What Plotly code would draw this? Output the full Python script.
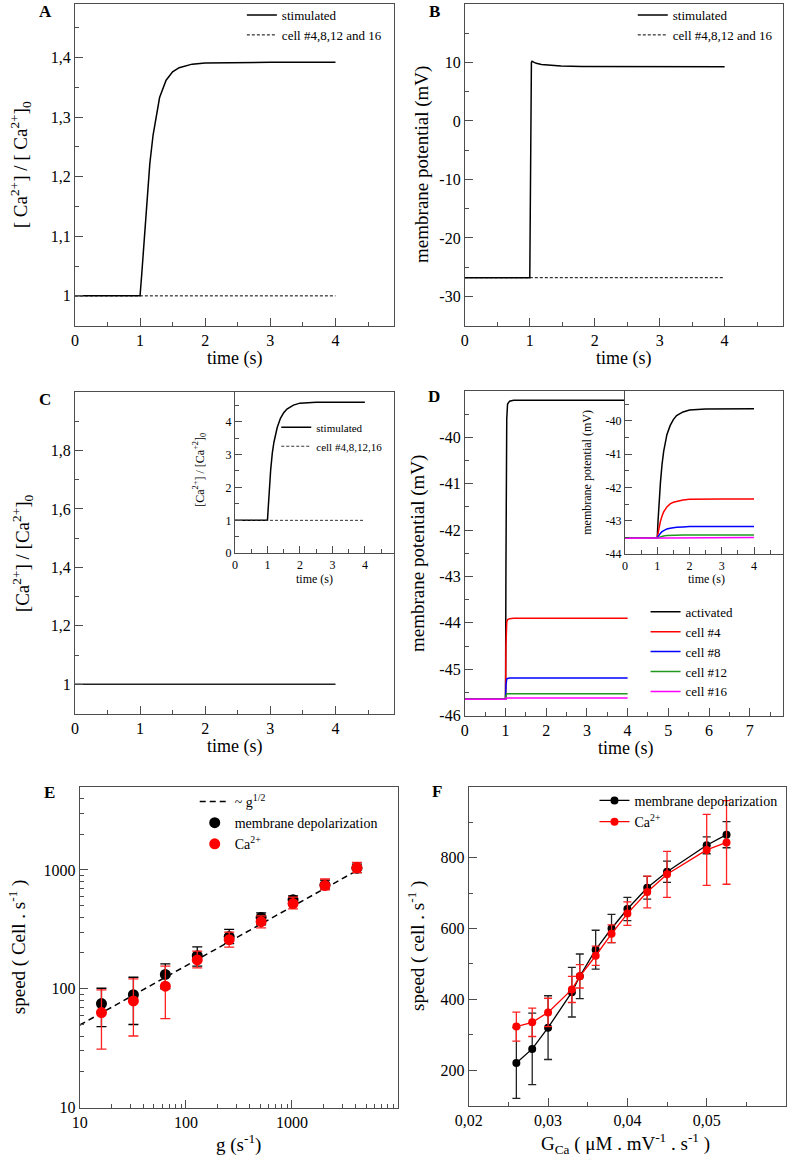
import plotly.graph_objects as go

W, H = 787, 1166
FONT = "Liberation Serif, Times New Roman, DejaVu Serif, serif"
AX = "#4d4d4d"

# ---------------- data ----------------
# Panel A
t_A = [0, 1, 1.025, 1.05, 1.075, 1.1, 1.15, 1.2, 1.3, 1.4, 1.5, 1.6, 1.8, 2.0, 2.5, 3, 4]
ca_A_stim = [1.0, 1.0, 1.035, 1.072, 1.11, 1.15, 1.222, 1.27, 1.333, 1.362, 1.376, 1.383, 1.389, 1.391, 1.392, 1.392, 1.392]
t_cells = [0, 4]
ca_A_cells = [1.0, 1.0]

# Panel B
t_B = [0, 1, 1.025, 1.035, 1.06, 1.1, 1.18, 1.3, 1.48, 1.8, 4]
v_B_stim = [-26.8, -26.8, 10.0, 10.2, 10.05, 9.85, 9.66, 9.5, 9.38, 9.3, 9.27]
v_B_cells = [-26.8, -26.8]

# Panel C (main and inset)
ca_C_main = [1.0, 1.0]
ca_C_stim = [1.0, 1.0, 1.4, 1.85, 2.25, 2.55, 3.05, 3.38, 3.82, 4.1, 4.27, 4.38, 4.50, 4.56, 4.585, 4.59, 4.59]
ca_C_cells = [1.0, 1.0]

# Panel D main
t_D = [0, 1, 1.01, 1.02, 1.03, 1.05, 1.1, 1.2, 4]
d_names = ["activated", "cell #4", "cell #8", "cell #12", "cell #16"]
d_colors = ["#000000", "#ff0000", "#0000ff", "#1f9a1f", "#ff00ff"]
vD_act = [-45.65, -45.65, -42.8, -40.6, -39.6, -39.28, -39.22, -39.2, -39.2]
vD_c4 = [-45.65, -45.65, -44.5, -44.1, -43.98, -43.93, -43.91, -43.9, -43.9]
vD_c8 = [-45.65, -45.65, -45.35, -45.25, -45.21, -45.2, -45.19, -45.19, -45.19]
vD_c12 = [-45.65, -45.65, -45.57, -45.545, -45.535, -45.53, -45.53, -45.53, -45.53]
vD_c16 = [-45.65, -45.65, -45.63, -45.625, -45.62, -45.62, -45.62, -45.62, -45.62]

# Panel D inset
t_Di = [0, 1, 1.025, 1.05, 1.075, 1.1, 1.15, 1.2, 1.3, 1.4, 1.5, 1.6, 1.8, 2.0, 2.5, 3, 4]
vDi_act = [-43.52, -43.52, -43.01, -42.55, -42.16, -41.85, -41.30, -40.91, -40.41, -40.14, -39.96, -39.84, -39.73, -39.67, -39.64, -39.63, -39.63]
vDi_c4 = [-43.52, -43.52, -43.37, -43.23, -43.11, -43.01, -42.85, -42.73, -42.58, -42.49, -42.44, -42.41, -42.37, -42.35, -42.34, -42.34, -42.34]
vDi_c8 = [-43.52, -43.52, -43.47, -43.43, -43.40, -43.37, -43.32, -43.29, -43.24, -43.22, -43.20, -43.19, -43.18, -43.17, -43.17, -43.17, -43.17]
vDi_c12 = [-43.52, -43.52, -43.51, -43.495, -43.485, -43.477, -43.463, -43.453, -43.44, -43.433, -43.43, -43.425, -43.422, -43.421, -43.42, -43.42, -43.42]
vDi_c16 = [-43.52, -43.52, -43.517, -43.515, -43.513, -43.511, -43.509, -43.507, -43.504, -43.503, -43.502, -43.501, -43.5, -43.5, -43.5, -43.5, -43.5]

# Panel E
g_vals = [16, 32, 64, 128, 256, 512, 1024, 2048, 4096]
E_dep = [75, 89, 132, 190, 275, 398, 562, 750, 1035]
E_dep_hi = [101, 125, 162, 225, 316, 436, 605, 820, 1120]
E_dep_lo = [48, 50, 100, 155, 240, 345, 520, 690, 950]
E_ca = [63, 79, 105, 175, 259, 367, 521, 741, 1047]
E_ca_hi = [98, 121, 155, 207, 300, 410, 590, 840, 1160]
E_ca_lo = [31, 40, 56, 150, 224, 325, 470, 680, 950]
g_fit = [10, 4096]
speed_fit = [49.5, 990]

# Panel F
G_ca = [0.026, 0.028, 0.030, 0.033, 0.034, 0.036, 0.038, 0.040, 0.0425, 0.045, 0.050, 0.0525]
F_dep = [220, 260, 320, 420, 465, 540, 600, 655, 715, 760, 835, 865]
F_dep_err = [100, 101, 90, 70, 63, 55, 40, 33, 32, 30, 24, 37]
F_ca = [323, 335, 363, 428, 465, 523, 585, 642, 703, 753, 822, 843]
F_ca_err = [41, 40, 40, 37, 33, 27, 25, 33, 45, 65, 100, 118]

# tick labels
t_ticks = [0, 1, 2, 3, 4]
t_minor = [0.5, 1.5, 2.5, 3.5, 4.5]
A_yticks = [1.0, 1.1, 1.2, 1.3, 1.4]
A_ylabels = ["1", "1,1", "1,2", "1,3", "1,4"]
A_yminor = [0.95, 1.05, 1.15, 1.25, 1.35, 1.45]
B_yticks = [-30, -20, -10, 0, 10]
B_yminor = [-35, -25, -15, -5, 5, 15]
C_yticks = [1.0, 1.2, 1.4, 1.6, 1.8]
C_ylabels = ["1", "1,2", "1,4", "1,6", "1,8"]
C_yminor = [0.9, 1.1, 1.3, 1.5, 1.7, 1.9]
Ci_yticks = [0, 1, 2, 3, 4]
Ci_yminor = [0.5, 1.5, 2.5, 3.5, 4.5]
D_xticks = [0, 1, 2, 3, 4, 5, 6, 7]
D_xminor = [0.5, 1.5, 2.5, 3.5, 4.5, 5.5, 6.5, 7.5]
D_yticks = [-46, -45, -44, -43, -42, -41, -40]
D_yminor = [-45.5, -44.5, -43.5, -42.5, -41.5, -40.5, -39.5]
Di_yticks = [-44, -43, -42, -41, -40]
Di_yminor = [-43.5, -42.5, -41.5, -40.5, -39.5]
E_ticks = [10, 100, 1000]
E_minor = [20, 30, 40, 50, 60, 70, 80, 90, 200, 300, 400, 500, 600, 700, 800, 900,
           2000, 3000, 4000, 5000, 6000, 7000, 8000, 9000]
F_xticks = [0.02, 0.03, 0.04, 0.05]
F_xlabels = ["0,02", "0,03", "0,04", "0,05"]
F_xminor = [0.025, 0.035, 0.045, 0.055]
F_yticks = [200, 400, 600, 800]
F_yminor = [100, 300, 500, 700, 900]


# ---------------- helpers ----------------
def dx(a, b):
    return [a / W, b / W]


def dy(top, bottom):
    return [1 - bottom / H, 1 - top / H]


def px(x):
    return x / W


def py(y):
    return 1 - y / H


def axis(domain, rng, tickvals, ticktext, minor_vals, anchor, size=16, typ="linear", ticklen=8, minorlen=4):
    return dict(
        domain=domain, range=rng, type=typ, anchor=anchor,
        tickmode="array", tickvals=tickvals, ticktext=ticktext,
        showline=True, linecolor=AX, linewidth=1, mirror=True,
        ticks="inside", ticklen=ticklen, tickwidth=1, tickcolor=AX,
        showgrid=False, zeroline=False, fixedrange=True,
        tickfont=dict(family=FONT, size=size, color="black"),
        minor=dict(tickmode="array", tickvals=minor_vals, ticks="inside",
                   ticklen=minorlen, tickwidth=1, tickcolor=AX, showgrid=False),
    )


fig = go.Figure()

DASH = "3px,2px"

# A
fig.add_trace(go.Scatter(x=t_A, y=ca_A_stim, mode="lines", name="stimulated",
                         line=dict(color="black", width=1.5), xaxis="x", yaxis="y", legend="legend"))
fig.add_trace(go.Scatter(x=t_cells, y=ca_A_cells, mode="lines", name="cell #4,8,12 and 16",
                         line=dict(color="black", width=1, dash=DASH), xaxis="x", yaxis="y", legend="legend"))
# B
fig.add_trace(go.Scatter(x=t_B, y=v_B_stim, mode="lines", name="stimulated",
                         line=dict(color="black", width=1.5), xaxis="x2", yaxis="y2", legend="legend2"))
fig.add_trace(go.Scatter(x=t_cells, y=v_B_cells, mode="lines", name="cell #4,8,12 and 16",
                         line=dict(color="black", width=1, dash=DASH), xaxis="x2", yaxis="y2", legend="legend2"))
# C main
fig.add_trace(go.Scatter(x=t_cells, y=ca_C_main, mode="lines", showlegend=False,
                         line=dict(color="#222222", width=1.5), xaxis="x3", yaxis="y3"))
# C inset
fig.add_trace(go.Scatter(x=t_A, y=ca_C_stim, mode="lines", name="stimulated",
                         line=dict(color="black", width=1.5), xaxis="x4", yaxis="y4", legend="legend3"))
fig.add_trace(go.Scatter(x=t_cells, y=ca_C_cells, mode="lines", name="cell #4,8,12,16",
                         line=dict(color="#333333", width=1, dash=DASH), xaxis="x4", yaxis="y4", legend="legend3"))
# D main
for name, col, vals in zip(d_names, d_colors, [vD_act, vD_c4, vD_c8, vD_c12, vD_c16]):
    fig.add_trace(go.Scatter(x=t_D, y=vals, mode="lines", name=name,
                             line=dict(color=col, width=1.5), xaxis="x5", yaxis="y5", legend="legend4"))
# D inset
for name, col, vals in zip(d_names, d_colors, [vDi_act, vDi_c4, vDi_c8, vDi_c12, vDi_c16]):
    fig.add_trace(go.Scatter(x=t_Di, y=vals, mode="lines", name=name, showlegend=False,
                             line=dict(color=col, width=1.5), xaxis="x6", yaxis="y6"))
# E
fig.add_trace(go.Scatter(x=g_fit, y=speed_fit, mode="lines", name="~ g<sup>1/2</sup>",
                         line=dict(color="black", width=1.5, dash="6px,4px"),
                         xaxis="x7", yaxis="y7", legend="legend5"))
fig.add_trace(go.Scatter(
    x=g_vals, y=E_dep, mode="markers", name="membrane depolarization",
    marker=dict(color="black", size=11),
    error_y=dict(type="data", symmetric=False,
                 array=[h - v for h, v in zip(E_dep_hi, E_dep)],
                 arrayminus=[v - l for v, l in zip(E_dep, E_dep_lo)],
                 color="black", thickness=1.3, width=5),
    xaxis="x7", yaxis="y7", legend="legend5"))
fig.add_trace(go.Scatter(
    x=g_vals, y=E_ca, mode="markers", name="Ca<sup>2+</sup>",
    marker=dict(color="#ff0000", size=11),
    error_y=dict(type="data", symmetric=False,
                 array=[h - v for h, v in zip(E_ca_hi, E_ca)],
                 arrayminus=[v - l for v, l in zip(E_ca, E_ca_lo)],
                 color="#ff2020", thickness=1.3, width=5),
    xaxis="x7", yaxis="y7", legend="legend5"))
# F
fig.add_trace(go.Scatter(
    x=G_ca, y=F_dep, mode="lines+markers", name="membrane depolarization",
    line=dict(color="black", width=1.3), marker=dict(color="black", size=8),
    error_y=dict(type="data", array=F_dep_err, color="#222222", thickness=1.3, width=4),
    xaxis="x8", yaxis="y8", legend="legend6"))
fig.add_trace(go.Scatter(
    x=G_ca, y=F_ca, mode="lines+markers", name="Ca<sup>2+</sup>",
    line=dict(color="#ff0000", width=1.3), marker=dict(color="#ff0000", size=8),
    error_y=dict(type="data", array=F_ca_err, color="#ff2020", thickness=1.3, width=4),
    xaxis="x8", yaxis="y8", legend="legend6"))

# ---------------- axes ----------------
XR = [0, 4.9]
layout_axes = dict(
    xaxis=axis(dx(62, 387), XR, t_ticks, [str(v) for v in t_ticks], t_minor, "y"),
    yaxis=axis(dy(1, 326), [0.95, 1.49], A_yticks, A_ylabels, A_yminor, "x"),
    xaxis2=axis(dx(459, 783), XR, t_ticks, [str(v) for v in t_ticks], t_minor, "y2"),
    yaxis2=axis(dy(1, 326), [-35, 20], B_yticks, [str(v) for v in B_yticks], B_yminor, "x2"),
    xaxis3=axis(dx(62, 387), XR, t_ticks, [str(v) for v in t_ticks], t_minor, "y3"),
    yaxis3=axis(dy(393, 718), [0.9, 2.0], C_yticks, C_ylabels, C_yminor, "x3"),
    xaxis4=axis(dx(225, 387), XR, t_ticks, [str(v) for v in t_ticks], t_minor, "y4", size=12, ticklen=7, minorlen=4),
    yaxis4=axis(dy(393, 556), [0, 4.9], Ci_yticks, [str(v) for v in Ci_yticks], Ci_yminor, "x4", size=12, ticklen=7, minorlen=4),
    xaxis5=axis(dx(459, 783), [0, 7.82], D_xticks, [str(v) for v in D_xticks], D_xminor, "y5"),
    yaxis5=axis(dy(392, 720), [-46, -39], D_yticks, [str(v) for v in D_yticks], D_yminor, "x5"),
    xaxis6=axis(dx(622, 783), XR, t_ticks, [str(v) for v in t_ticks], t_minor, "y6", size=12, ticklen=7, minorlen=4),
    yaxis6=axis(dy(392, 557), [-44, -39.1], Di_yticks, [str(v) for v in Di_yticks], Di_yminor, "x6", size=12, ticklen=7, minorlen=4),
    xaxis7=axis(dx(67, 391), [1, 4], E_ticks, [str(v) for v in E_ticks], E_minor, "y7", typ="log"),
    yaxis7=axis(dy(792, 1116), [1, 3.7], E_ticks, [str(v) for v in E_ticks], E_minor, "x7", typ="log"),
    xaxis8=axis(dx(463, 786), [0.02, 0.06], F_xticks, F_xlabels, F_xminor, "y8"),
    yaxis8=axis(dy(792, 1114), [100, 1000], F_yticks, [str(v) for v in F_yticks], F_yminor, "x8"),
)


def leg(x, y, size):
    return dict(x=px(x), y=py(y), xanchor="left", yanchor="top", bgcolor="rgba(0,0,0,0)",
                borderwidth=0, font=dict(family=FONT, size=size, color="black"),
                itemclick=False, itemdoubleclick=False)


# ---------------- annotations ----------------
ann = []


def text(x, y, s, size, angle=0, bold=False):
    ann.append(dict(x=px(x), y=py(y), xref="paper", yref="paper", text=("<b>%s</b>" % s) if bold else s,
                    showarrow=False, textangle=angle, xanchor="center", yanchor="middle",
                    font=dict(family=FONT, size=size, color="black")))


# panel letters
text(32, 9, "A", 17, bold=True)
text(428, 9, "B", 17, bold=True)
text(32, 401, "C", 17, bold=True)
text(428, 398, "D", 17, bold=True)
text(36, 798, "E", 17, bold=True)
text(431, 797, "F", 17, bold=True)

# axis titles
CA = "[ Ca<sup>2+</sup>] / [ Ca<sup>2+</sup>]<sub>0</sub>"
text(225, 359, "time (s)", 18)
text(621, 359, "time (s)", 18)
text(225, 751, "time (s)", 18)
text(623, 753, "time (s)", 18)
text(6, 163, CA, 19, angle=-90)
text(416, 163, "membrane potential (mV)", 19, angle=-90)
text(8, 556, "[Ca<sup>2+</sup>] / [Ca<sup>2+</sup>]<sub>0</sub>", 19, angle=-90)
text(412, 556, "membrane potential (mV)", 19, angle=-90)
# insets
text(306, 582, "time (s)", 12)
text(189, 472, "[Ca<sup>2+</sup>] / [Ca<sup>+2</sup>]<sub>0</sub>", 12, angle=-90)
text(705, 582, "time (s)", 12)
text(583, 474, "membrane potential (mV)", 12, angle=-90)
# E, F
text(229, 1152, "g (s<sup>-1</sup>)", 19)
text(3, 953, "speed ( Cell . s<sup>-1</sup> )", 19, angle=-90)
text(623, 1152, "G<sub>Ca</sub> ( μM . mV<sup>-1</sup> . s<sup>-1</sup> )", 19)
text(409, 953, "speed ( cell . s<sup>-1</sup> )", 19, angle=-90)

fig.update_layout(
    width=W, height=H, autosize=False,
    margin=dict(l=0, r=0, t=0, b=0),
    paper_bgcolor="white", plot_bgcolor="white",
    font=dict(family=FONT, color="black"),
    showlegend=True,
    legend=leg(232, -3, 13),
    legend2=leg(630, -3, 13),
    legend3=leg(267, 414, 11),
    legend4=leg(643, 600, 13),
    legend5=leg(184, 791, 14),
    legend6=leg(591, 790, 14),
    annotations=ann,
    **layout_axes,
)

fig.write_html("out.html", config={"displayModeBar": False},
               post_script="document.body.style.margin='0';document.body.style.padding='0';")
